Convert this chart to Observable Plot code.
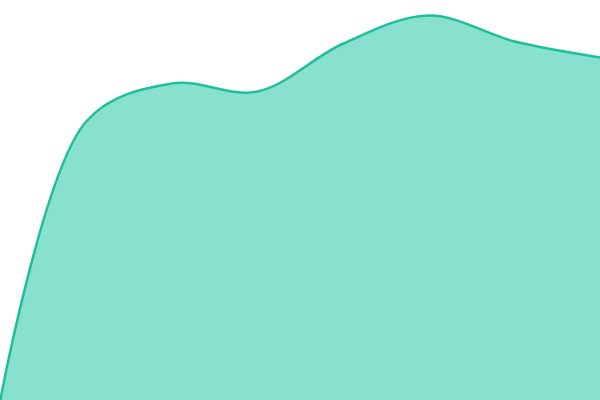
<!DOCTYPE html>
<html>
<head>
<meta charset="utf-8">
<script src="https://cdn.jsdelivr.net/npm/d3@7"></script>
<script src="https://cdn.jsdelivr.net/npm/@observablehq/plot@0.6"></script>
<style>
  html, body { margin: 0; padding: 0; background: #fff; overflow: hidden; }
  #chart svg { display: block; }
</style>
</head>
<body>
<div id="chart"></div>
<script>
const steps = [0, 1, 2, 3, 4, 5, 6, 7];
const values = [1, 279, 317, 309, 357, 385, 359, 343];

const data = steps.map((s, i) => ({ step: s, value: values[i] }));

const chart = Plot.plot({
  width: 600,
  height: 400,
  margin: 0,
  x: { domain: [0, 7], axis: null },
  y: { domain: [0, 400], axis: null },
  marks: [
    Plot.areaY(data, { x: "step", y: "value", curve: "catmull-rom", fill: "#88e0cf" }),
    Plot.lineY(data, { x: "step", y: "value", curve: "catmull-rom", stroke: "#1fbf99", strokeWidth: 2.5 })
  ]
});
document.getElementById("chart").append(chart);
</script>
</body>
</html>
